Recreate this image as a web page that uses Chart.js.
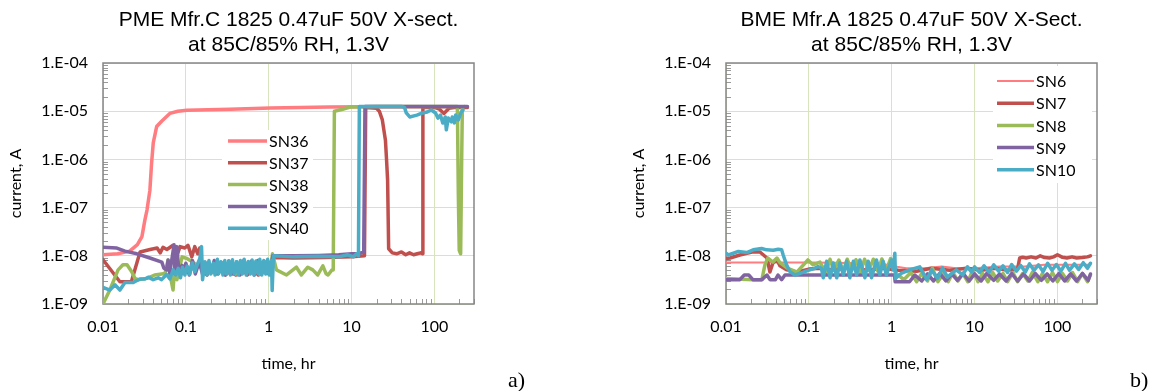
<!DOCTYPE html>
<html>
<head>
<meta charset="utf-8">
<script src="https://cdn.jsdelivr.net/npm/chart.js@4.4.0/dist/chart.umd.min.js"></script>
<style>
body { margin: 0; background: #fff; width: 1156px; height: 391px; position: relative; overflow: hidden; }
.box { position: absolute; top: 0; width: 533px; height: 391px; }
#boxA { left: 0; }
#boxB { left: 623px; }
.tag { position: absolute; font-family: 'Liberation Serif', 'Times New Roman', serif; font-size: 22px; line-height: 22px; color: #000; }
</style>
</head>
<body>
<div class="box" id="boxA"><canvas id="chartA"></canvas></div>
<div class="box" id="boxB"><canvas id="chartB"></canvas></div>
<div class="tag" style="left:508px;top:369px">a)</div>
<div class="tag" style="left:1130px;top:369px">b)</div>
<script>
// axes
const xTickValues = [0.01, 0.1, 1, 10, 100];
const xTickLabels = ['0.01', '0.1', '1', '10', '100'];
const yTickValues = [1e-9, 1e-8, 1e-7, 1e-6, 1e-5, 1e-4];
const yTickLabels = ['1.E-09', '1.E-08', '1.E-07', '1.E-06', '1.E-05', '1.E-04'];

// chart a) PME Mfr.C
const sn36T = [0.01, 0.015, 0.021, 0.026, 0.0295, 0.032, 0.034, 0.0368, 0.0385, 0.0404, 0.0444, 0.051, 0.064, 0.08, 0.103, 0.34, 1.05, 2.4, 5.4, 15, 50, 250];
const sn36I = [1.05e-8, 1.1e-8, 1.25e-8, 1.7e-8, 2.5e-8, 5.5e-8, 9e-8, 2.3e-7, 8e-7, 2.2e-6, 4.8e-6, 6.2e-6, 9e-6, 1e-5, 1.05e-5, 1.1e-5, 1.17e-5, 1.2e-5, 1.22e-5, 1.23e-5, 1.24e-5, 1.24e-5];

const sn37T = [0.01, 0.016, 0.022, 0.028, 0.037, 0.045, 0.049, 0.053, 0.059, 0.07, 0.078, 0.085, 0.097, 0.106, 0.118, 0.128, 0.139, 0.147, 0.16, 0.18, 0.2, 0.23, 0.26, 0.3, 0.35, 0.4, 0.47, 0.55, 0.65, 0.75, 0.9, 1.05, 1.12, 2, 5, 10, 14.3, 14.8, 20, 21.6, 23.5, 25.6, 26.4, 27.2, 28, 31, 35, 40, 45, 50, 56, 62, 68, 71.6, 72.5, 100, 115, 130, 150, 180, 250];
const sn37I = [8.3e-9, 2.9e-9, 2.9e-9, 1.2e-8, 1.35e-8, 1.45e-8, 1.15e-8, 1.5e-8, 1.35e-8, 1.65e-8, 1.0e-8, 1.55e-8, 1.45e-8, 1.65e-8, 9.5e-9, 1.55e-8, 1.1e-8, 1.45e-8, 5e-9, 4e-9, 6e-9, 4.2e-9, 5.5e-9, 4e-9, 5e-9, 4e-9, 5.5e-9, 4e-9, 5.2e-9, 4e-9, 5e-9, 4.2e-9, 9.2e-9, 9e-9, 9.2e-9, 9.5e-9, 1e-8, 1.2e-5, 1.15e-5, 1e-5, 6.6e-6, 2.5e-6, 1e-6, 3.7e-7, 1.4e-8, 1.15e-8, 1.1e-8, 1.2e-8, 1.05e-8, 1.15e-8, 1.05e-8, 1.1e-8, 1.15e-8, 1.1e-8, 1.2e-5, 1.2e-5, 1.1e-5, 9e-6, 1.15e-5, 1.2e-5, 1.2e-5];

const sn38T = [0.01, 0.0121, 0.0152, 0.0174, 0.0195, 0.0223, 0.0243, 0.0264, 0.034, 0.042, 0.056, 0.061, 0.064, 0.07, 0.074, 0.078, 0.09, 0.103, 0.121, 0.147, 0.179, 0.21, 0.25, 0.29, 0.34, 0.4, 0.47, 0.55, 0.65, 0.77, 0.9, 1.05, 1.11, 1.24, 1.64, 2.16, 2.48, 2.96, 3.4, 3.9, 4.5, 4.9, 5.2, 5.8, 6.0, 6.2, 7.8, 9.6, 20, 60, 120, 189, 194, 199, 207, 213, 217, 230];
const sn38I = [1e-9, 1.95e-9, 5.1e-9, 6.5e-9, 6.5e-9, 4.6e-9, 3.4e-9, 3.2e-9, 3.4e-9, 4e-9, 4.3e-9, 8.2e-9, 4.3e-9, 1.95e-9, 7.2e-9, 3.2e-9, 9.5e-9, 8.8e-9, 7.4e-9, 5.9e-9, 5.9e-9, 4.5e-9, 7e-9, 4.5e-9, 6.5e-9, 4.2e-9, 6.8e-9, 4.4e-9, 6.5e-9, 4.2e-9, 6.6e-9, 4.5e-9, 1.1e-8, 5.1e-9, 4e-9, 5.8e-9, 4e-9, 5.8e-9, 5.1e-9, 4e-9, 6.2e-9, 4.3e-9, 4e-9, 5.1e-9, 5.1e-9, 1e-5, 1.1e-5, 1.22e-5, 1.25e-5, 1.25e-5, 1.25e-5, 1.25e-5, 2e-7, 1.3e-8, 1.1e-8, 1e-6, 1.2e-5, 1.25e-5];

const sn39T = [0.01, 0.0147, 0.0184, 0.0257, 0.0368, 0.0513, 0.0543, 0.059, 0.061, 0.064, 0.072, 0.074, 0.078, 0.082, 0.0897, 0.092, 0.1, 0.11, 0.12, 0.13, 0.145, 0.16, 0.18, 0.2, 0.22, 0.245, 0.27, 0.3, 0.33, 0.37, 0.41, 0.45, 0.5, 0.55, 0.61, 0.67, 0.74, 0.82, 0.9, 1.0, 1.08, 1.12, 2, 4, 7, 10, 12, 14, 14.5, 15.5, 30, 80, 150, 250];
const sn39I = [1.5e-8, 1.45e-8, 1.25e-8, 1.1e-8, 9e-9, 7.4e-9, 5.5e-9, 5.1e-9, 8.2e-9, 4.4e-9, 1.7e-8, 4.2e-9, 1.55e-8, 5.1e-9, 6.3e-9, 4.3e-9, 7e-9, 4e-9, 8e-9, 4.2e-9, 7.5e-9, 4e-9, 7e-9, 4.5e-9, 8e-9, 4.2e-9, 7.2e-9, 4e-9, 7.8e-9, 4.2e-9, 7.5e-9, 4e-9, 8e-9, 4.3e-9, 7.6e-9, 4e-9, 8e-9, 4.2e-9, 7.5e-9, 4.2e-9, 7e-9, 1e-8, 1e-8, 1.02e-8, 1.05e-8, 1.1e-8, 1.1e-8, 1.2e-8, 1.25e-5, 1.25e-5, 1.25e-5, 1.25e-5, 1.25e-5, 1.25e-5];

const sn40T = [0.01, 0.0121, 0.014, 0.016, 0.0184, 0.0232, 0.0279, 0.032, 0.0351, 0.0403, 0.0464, 0.051, 0.0585, 0.0641, 0.0703, 0.0757, 0.0809, 0.0862, 0.0912, 0.0973, 0.1036, 0.1115, 0.1199, 0.1281, 0.1369, 0.1474, 0.1545, 0.159,
  0.17, 0.18, 0.19, 0.2, 0.215, 0.225, 0.24, 0.25, 0.265, 0.28, 0.295, 0.31, 0.33, 0.345, 0.365, 0.385, 0.41, 0.43, 0.455, 0.48, 0.505, 0.535, 0.565, 0.6, 0.63, 0.665, 0.7, 0.74, 0.78, 0.825, 0.87, 0.92, 0.97, 1.02, 1.08,
  1.1, 1.14, 2, 4, 7, 9, 10.5, 11.5, 12.1, 12.4, 20, 40, 43.5, 45.7, 50.3, 61.4, 71.6, 81.9, 91.6, 103, 110, 118, 126, 135, 139, 147, 160, 164, 174, 180, 194, 210, 221];
const sn40I = [2.2e-9, 1.95e-9, 2.5e-9, 1.95e-9, 2.8e-9, 2.8e-9, 3.3e-9, 3.3e-9, 3.6e-9, 3.2e-9, 3.5e-9, 3.2e-9, 4.1e-9, 3.3e-9, 5.1e-9, 4e-9, 5.5e-9, 3.5e-9, 5.8e-9, 4e-9, 6.1e-9, 4.1e-9, 7.2e-9, 4.7e-9, 6.5e-9, 8.8e-9, 1.55e-8, 3.2e-9,
  7.5e-9, 4e-9, 8e-9, 4.2e-9, 7e-9, 4e-9, 8.5e-9, 4.3e-9, 7.5e-9, 4e-9, 8e-9, 4.2e-9, 7.8e-9, 4e-9, 8.3e-9, 4.3e-9, 7.5e-9, 4e-9, 8e-9, 4.2e-9, 8.5e-9, 4e-9, 7.6e-9, 4.2e-9, 8.2e-9, 4e-9, 7.8e-9, 4.3e-9, 8.5e-9, 4e-9, 8e-9, 4.2e-9, 8.5e-9, 4e-9, 8e-9,
  1.9e-9, 1e-8, 9.5e-9, 9.8e-9, 9.5e-9, 1.05e-8, 9.5e-9, 1.1e-8, 1e-8, 1.25e-5, 1.25e-5, 1.25e-5, 1.2e-5, 9.2e-6, 7.6e-6, 8.3e-6, 9.2e-6, 9.6e-6, 1.06e-5, 9.2e-6, 7.2e-6, 8.3e-6, 5.7e-6, 7.6e-6, 4.1e-6, 7.2e-6, 6e-6, 7.6e-6, 5.7e-6, 8.3e-6, 6.6e-6, 9.6e-6, 1.06e-5];

// chart b) BME Mfr.A
const sn6T = [0.01, 0.05, 0.1, 0.2, 0.4, 0.7, 1.1, 1.5, 2.5, 4, 6, 10, 20, 40, 70, 120, 250];
const sn6I = [7.3e-9, 7.3e-9, 7.3e-9, 7.2e-9, 7e-9, 7e-9, 6e-9, 5.5e-9, 5.5e-9, 6e-9, 5.5e-9, 5.5e-9, 6e-9, 6e-9, 6.5e-9, 6.5e-9, 6.5e-9];

const sn7T = [0.01, 0.0112, 0.0147, 0.0206, 0.0257, 0.0312, 0.0339, 0.0368, 0.0412, 0.0447, 0.0543, 0.0716, 0.1, 0.136, 0.2, 0.3, 0.5, 0.8, 1.2, 2, 3, 5, 8, 12, 18, 25, 33, 35, 38, 42, 48, 55, 62, 70, 80, 90, 100, 115, 130, 150, 170, 200, 230, 250];
const sn7I = [8.8e-9, 9e-9, 1.04e-8, 1.2e-8, 1.2e-8, 9e-9, 4.6e-9, 7.1e-9, 8.2e-9, 6.2e-9, 5.1e-9, 4.6e-9, 5.3e-9, 5.5e-9, 5e-9, 5.8e-9, 5e-9, 5.5e-9, 5e-9, 4.8e-9, 5.5e-9, 5e-9, 5.5e-9, 5e-9, 5.5e-9, 5e-9, 5.3e-9, 9e-9, 9.3e-9, 9e-9, 9.5e-9, 9e-9, 1.0e-8, 9.2e-9, 9e-9, 9.5e-9, 1.05e-8, 9.3e-9, 9e-9, 9.5e-9, 9e-9, 9.2e-9, 9.5e-9, 1e-8];

const sn8T = [0.01, 0.0211, 0.0271, 0.0295, 0.032, 0.0368, 0.0412, 0.0447, 0.0543, 0.0716, 0.0973, 0.112, 0.136, 0.16, 0.18, 0.2, 0.23, 0.26, 0.29, 0.33, 0.37, 0.42, 0.47, 0.53, 0.6, 0.68, 0.76, 0.86, 0.97, 1.05, 1.15, 1.4, 1.7, 2, 2.3, 2.7, 3.1, 3.6, 4.2, 4.8, 5.5, 6.3, 7.2, 8.3, 9.5, 11, 12.5, 14.5, 16.5, 19, 22, 25, 29, 33, 38, 44, 50, 58, 66, 76, 87, 100, 115, 132, 152, 175, 200, 230, 250];
const sn8I = [3.4e-9, 3.2e-9, 3.2e-9, 6.5e-9, 9e-9, 7.4e-9, 9e-9, 7.2e-9, 5.6e-9, 4.6e-9, 8.2e-9, 6.5e-9, 7.4e-9, 4.5e-9, 8.5e-9, 5e-9, 8.2e-9, 4.8e-9, 8.5e-9, 5e-9, 8.3e-9, 4.6e-9, 8.5e-9, 5e-9, 8.5e-9, 4.8e-9, 8.6e-9, 5e-9, 8.8e-9, 5.5e-9, 4.2e-9, 3.2e-9, 4.5e-9, 2.9e-9, 4.3e-9, 3e-9, 5.5e-9, 2.9e-9, 4.3e-9, 2.9e-9, 4.5e-9, 3e-9, 4.3e-9, 2.9e-9, 5e-9, 2.9e-9, 4.3e-9, 2.9e-9, 4.5e-9, 3e-9, 4.3e-9, 2.9e-9, 4.5e-9, 2.9e-9, 4.3e-9, 3e-9, 4.6e-9, 2.9e-9, 4.3e-9, 2.9e-9, 4.5e-9, 2.9e-9, 4.3e-9, 3e-9, 4.5e-9, 2.9e-9, 4.3e-9, 2.9e-9, 4e-9];

const sn9T = [0.01, 0.0147, 0.0166, 0.0188, 0.0211, 0.0271, 0.0312, 0.0339, 0.0395, 0.0424, 0.0469, 0.0515, 0.07, 0.2, 0.5, 1.0, 1.08, 1.1, 1.3, 1.64, 1.9, 2.3, 2.7, 3.2, 3.8, 4.5, 5.3, 6.2, 7.3, 8.6, 10, 12, 14, 17, 20, 24, 28, 33, 39, 46, 54, 64, 75, 88, 104, 122, 144, 170, 200, 235, 250];
const sn9I = [3.2e-9, 3.2e-9, 4e-9, 4e-9, 3.2e-9, 3.2e-9, 4e-9, 3.2e-9, 3.2e-9, 4e-9, 3.2e-9, 4e-9, 4e-9, 4e-9, 4e-9, 4e-9, 4e-9, 2.9e-9, 2.9e-9, 2.9e-9, 4e-9, 3e-9, 4.2e-9, 3e-9, 4.3e-9, 3e-9, 4.2e-9, 3.1e-9, 4.3e-9, 3e-9, 4.2e-9, 3e-9, 4.3e-9, 3.1e-9, 4.2e-9, 3e-9, 4.3e-9, 3e-9, 4.2e-9, 3e-9, 4.3e-9, 3.1e-9, 4.2e-9, 3e-9, 4.3e-9, 3e-9, 4.2e-9, 3e-9, 4.3e-9, 3.1e-9, 4.2e-9];

const sn10T = [0.01, 0.0107, 0.0141, 0.0178, 0.0213, 0.0269, 0.0309, 0.0372, 0.0426, 0.0469, 0.049, 0.0538, 0.059, 0.0677, 0.078, 0.0895, 0.1027, 0.118, 0.129, 0.142, 0.149, 0.164, 0.18, 0.197, 0.217, 0.237, 0.261, 0.285, 0.312, 0.344, 0.377, 0.413, 0.475, 0.52, 0.57, 0.655, 0.718, 0.786, 0.862, 0.991, 1.04, 1.09, 1.11, 1.3, 1.64, 2.18, 2.65, 3.03, 3.58, 4.1, 4.7, 6.0, 7.2, 8.2, 9.2, 10, 11.5, 13, 15, 17, 19.5, 22, 25, 28, 32, 36, 41, 46, 52, 59, 67, 76, 86, 97, 110, 125, 140, 160, 180, 205, 230, 250];
const sn10I = [1.13e-8, 1.04e-8, 1.23e-8, 1.17e-8, 1.33e-8, 1.42e-8, 1.33e-8, 1.3e-8, 1.37e-8, 1.33e-8, 1.04e-8, 6.5e-9, 4.7e-9, 4e-9, 4.3e-9, 4.7e-9, 5.1e-9, 5.5e-9, 6e-9, 5.5e-9, 3.5e-9, 7.7e-9, 3.5e-9, 7.1e-9, 3.5e-9, 7.1e-9, 4e-9, 7.7e-9, 3.5e-9, 7.7e-9, 4e-9, 8.2e-9, 3.5e-9, 7.7e-9, 3.5e-9, 8.2e-9, 4e-9, 7.7e-9, 4e-9, 8.2e-9, 5.1e-9, 1.13e-8, 3.4e-9, 4.3e-9, 5.1e-9, 5.9e-9, 3.2e-9, 5.1e-9, 3.4e-9, 5.6e-9, 3.6e-9, 5.1e-9, 4e-9, 5.9e-9, 4.6e-9, 5.9e-9, 4.5e-9, 6.2e-9, 4.6e-9, 6.5e-9, 4.8e-9, 6.2e-9, 4.5e-9, 6.6e-9, 4.8e-9, 6.3e-9, 4.6e-9, 6.8e-9, 5e-9, 6.5e-9, 4.7e-9, 7e-9, 5e-9, 6.6e-9, 4.8e-9, 7e-9, 5e-9, 6.8e-9, 5.2e-9, 7.2e-9, 5.5e-9, 7e-9];

const colors = ['#FF7C80', '#C0504D', '#9BBB59', '#8064A2', '#4BACC6'];
const gridColor = '#D7E4BD';
const axisColor = '#868686';

function pts(t, v) {
    return t.map(function (x, i) { return { x: x, y: v[i] }; });
}

function series(label, t, v, i, width) {
    return {
        label: label,
        data: pts(t, v),
        borderColor: colors[i],
        backgroundColor: colors[i],
        borderWidth: width,
        pointRadius: 0,
        tension: 0,
        fill: false,
        borderJoinStyle: 'round',
        borderCapStyle: 'round',
        order: 5 - i
    };
}

// frame, minor ticks
const frame = {
    id: 'frame',
    beforeDatasetsDraw(chart) {
        const ctx = chart.ctx;
        const a = chart.chartArea;
        const xs = chart.scales.x, ys = chart.scales.y;
        ctx.save();
        ctx.strokeStyle = '#9a9a9a';
        ctx.lineWidth = 1;
        ctx.beginPath();
        for (let k = -9; k < -4; k++) {
            for (let m = 2; m < 10; m++) {
                const py = Math.round(ys.getPixelForValue(m * Math.pow(10, k))) + 0.5;
                ctx.moveTo(a.left, py);
                ctx.lineTo(a.left + 5, py);
            }
        }
        for (let k = -2; k < 3; k++) {
            for (let m = 2; m < 10; m++) {
                const v = m * Math.pow(10, k);
                if (v > xs.max) break;
                const px = Math.round(xs.getPixelForValue(v)) + 0.5;
                ctx.moveTo(px, a.bottom);
                ctx.lineTo(px, a.bottom - 5);
            }
        }
        ctx.stroke();
        ctx.strokeStyle = axisColor;
        ctx.lineWidth = 1.5;
        ctx.strokeRect(a.left, a.top, a.right - a.left, a.bottom - a.top);
        ctx.restore();
    }
};

// legend inside the plot
const insetLegend = {
    id: 'insetLegend',
    afterDraw(chart, args, o) {
        const ctx = chart.ctx;
        ctx.save();
        ctx.fillStyle = '#fff';
        ctx.fillRect(o.box[0], o.box[1], o.box[2], o.box[3]);
        ctx.font = '16px Lato';
        ctx.textBaseline = 'middle';
        chart.data.datasets.forEach(function (ds, i) {
            const y = o.rowY + i * o.rowGap;
            ctx.strokeStyle = ds.borderColor;
            ctx.lineWidth = ds.borderWidth;
            ctx.lineCap = 'butt';
            ctx.beginPath();
            ctx.moveTo(o.lineX[0], y);
            ctx.lineTo(o.lineX[1], y);
            ctx.stroke();
            ctx.fillStyle = '#000';
            ctx.fillText(ds.label, o.textX, y + 1);
        });
        ctx.restore();
    }
};

function makeChart(id, title, datasets, legendOpts) {
    return new Chart(document.getElementById(id), {
        type: 'line',
        data: { datasets: datasets },
        plugins: [frame, insetLegend],
        options: {
            responsive: true,
            maintainAspectRatio: false,
            animation: false,
            devicePixelRatio: 1,
            events: [],
            layout: { padding: { left: 0, right: 59, top: 0, bottom: 0 } },
            scales: {
                x: {
                    type: 'logarithmic',
                    position: 'bottom',
                    min: 0.01,
                    max: 300,
                    afterBuildTicks: function (s) { s.ticks = xTickValues.map(function (v) { return { value: v }; }); },
                    afterFit: function (s) { s.height = 87; },
                    ticks: {
                        autoSkip: false,
                        maxRotation: 0,
                        padding: 13,
                        color: '#000',
                        font: { family: 'Lato', size: 16 },
                        callback: function (v, i) { return xTickLabels[i]; }
                    },
                    grid: { color: gridColor, lineWidth: 1, drawTicks: false },
                    border: { display: false },
                    title: { display: true, text: 'time, hr', color: '#000', font: { family: 'Lato', size: 16 }, padding: { top: 0, bottom: 18 } }
                },
                y: {
                    type: 'logarithmic',
                    position: 'left',
                    min: 1e-9,
                    max: 1e-4,
                    afterBuildTicks: function (s) { s.ticks = yTickValues.map(function (v) { return { value: v }; }); },
                    afterFit: function (s) { s.width = 103; },
                    ticks: {
                        autoSkip: false,
                        padding: 15,
                        color: '#000',
                        font: { family: 'Lato', size: 16 },
                        callback: function (v, i) { return yTickLabels[i]; }
                    },
                    grid: { color: gridColor, lineWidth: 1, drawTicks: false },
                    border: { display: false },
                    title: { display: true, text: 'current, A', color: '#000', font: { family: 'Lato', size: 16 }, padding: { top: 6, bottom: 0 } }
                }
            },
            plugins: {
                legend: { display: false },
                tooltip: { enabled: false },
                title: {
                    display: true,
                    fullSize: false,
                    text: title,
                    color: '#000',
                    font: { family: 'Liberation Sans', size: 21, weight: 'normal', lineHeight: 25 / 21 },
                    padding: { top: 7.5, bottom: 5.5 }
                },
                insetLegend: legendOpts
            }
        }
    });
}

makeChart('chartA', ['PME Mfr.C 1825 0.47uF 50V X-sect.', 'at 85C/85% RH, 1.3V'], [
    series('SN36', sn36T, sn36I, 0, 3.5),
    series('SN37', sn37T, sn37I, 1, 3.5),
    series('SN38', sn38T, sn38I, 2, 3.5),
    series('SN39', sn39T, sn39I, 3, 3.5),
    series('SN40', sn40T, sn40I, 4, 3.5)
], { box: [222, 130, 91, 110], lineX: [228, 267], textX: 269, rowY: 141, rowGap: 21.8 });

makeChart('chartB', ['BME Mfr.A 1825 0.47uF 50V X-Sect.', 'at 85C/85% RH, 1.3V'], [
    series('SN6', sn6T, sn6I, 0, 2),
    series('SN7', sn7T, sn7I, 1, 3.5),
    series('SN8', sn8T, sn8I, 2, 3.5),
    series('SN9', sn9T, sn9I, 3, 3.5),
    series('SN10', sn10T, sn10I, 4, 3.5)
], { box: [370, 66, 99, 117], lineX: [374, 411], textX: 413, rowY: 81, rowGap: 22.2 });
</script>
</body>
</html>
